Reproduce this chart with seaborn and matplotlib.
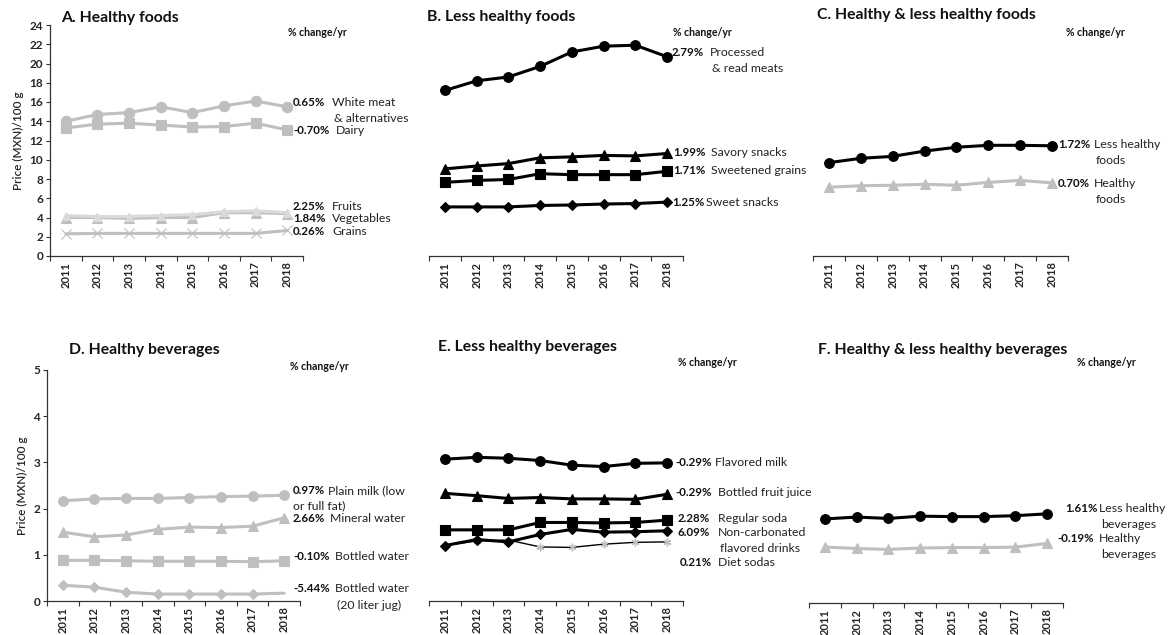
"""Food and beverage prices in Mexico, 2011-2018: six small panels."""

import matplotlib
matplotlib.use("Agg")
import matplotlib.pyplot as plt
import seaborn as sns

W, H = 1171, 635
BLACK = "#000000"
GRAY = "#bfbfbf"
LIGHT = "#dadada"

YEARS = [2011, 2012, 2013, 2014, 2015, 2016, 2017, 2018]

# ---------------------------------------------------------------------------
# A. Healthy foods
# ---------------------------------------------------------------------------
white_meat = [14.0, 14.7, 14.9, 15.5, 14.9, 15.6, 16.1, 15.5]
dairy      = [13.3, 13.7, 13.8, 13.6, 13.4, 13.45, 13.8, 13.1]
fruits     = [4.2, 4.1, 4.1, 4.2, 4.3, 4.6, 4.7, 4.5]
vegetables = [4.0, 4.0, 3.9, 4.0, 4.0, 4.5, 4.5, 4.4]
grains     = [2.3, 2.35, 2.35, 2.35, 2.35, 2.35, 2.35, 2.65]

# B. Less healthy foods
processed_meats  = [17.2, 18.2, 18.6, 19.7, 21.2, 21.8, 21.9, 20.7]
savory_snacks    = [9.05, 9.35, 9.6, 10.2, 10.3, 10.45, 10.4, 10.65]
sweetened_grains = [7.65, 7.85, 7.95, 8.55, 8.45, 8.45, 8.45, 8.8]
sweet_snacks     = [5.1, 5.1, 5.1, 5.25, 5.3, 5.4, 5.45, 5.6]

# C. Healthy & less healthy foods
less_healthy_foods = [9.7, 10.15, 10.35, 10.9, 11.3, 11.5, 11.5, 11.45]
healthy_foods      = [7.15, 7.3, 7.35, 7.45, 7.35, 7.65, 7.85, 7.6]

# D. Healthy beverages
plain_milk     = [2.17, 2.21, 2.22, 2.22, 2.24, 2.26, 2.27, 2.29]
mineral_water  = [1.49, 1.39, 1.43, 1.55, 1.6, 1.59, 1.62, 1.8]
bottled_water  = [0.88, 0.88, 0.87, 0.86, 0.86, 0.86, 0.85, 0.87]
jug_water      = [0.34, 0.30, 0.19, 0.15, 0.15, 0.15, 0.15, 0.17]

# E. Less healthy beverages
flavored_milk  = [3.07, 3.11, 3.09, 3.04, 2.94, 2.91, 2.98, 2.99]
fruit_juice    = [2.33, 2.28, 2.22, 2.24, 2.21, 2.21, 2.2, 2.31]
regular_soda   = [1.54, 1.54, 1.54, 1.7, 1.7, 1.69, 1.7, 1.75]
noncarbonated  = [1.2, 1.33, 1.28, 1.44, 1.55, 1.49, 1.5, 1.52]
diet_sodas     = [1.2, 1.3, 1.32, 1.17, 1.16, 1.23, 1.27, 1.28]

# F. Healthy & less healthy beverages
less_healthy_bev = [1.82, 1.86, 1.83, 1.88, 1.87, 1.87, 1.89, 1.93]
healthy_bev      = [1.21, 1.18, 1.16, 1.19, 1.2, 1.2, 1.21, 1.29]

ASTERISK = (6, 2, 0)

PANELS = [
    dict(title="A. Healthy foods", rect=(50, 25, 253, 231), ymax=24, ystep=2,
         yaxis=True, title_xy=(61, 18), chg_xy=(288, 33),
         series=[
             (white_meat, GRAY, "o", 7.5, 2.2),
             (dairy, GRAY, "s", 7.5, 2.2),
             (vegetables, GRAY, "^", 6.5, 2.2),
             (fruits, LIGHT, "^", 6.0, 2.2),
             (grains, GRAY, "x", 7.0, 2.2),
         ],
         labels=[
             ("0.65%", 293, 102, ["White meat", "& alternatives"], 332),
             ("-0.70%", 293, 130, ["Dairy"], 336),
             ("2.25%", 293, 206, ["Fruits"], 332),
             ("1.84%", 293, 218, ["Vegetables"], 332),
             ("0.26%", 293, 231, ["Grains"], 332),
         ]),
    dict(title="B. Less healthy foods", rect=(429, 25, 254, 231), ymax=24, ystep=2,
         yaxis=False, title_xy=(427, 17), chg_xy=(673, 33),
         series=[
             (processed_meats, BLACK, "o", 7.0, 2.2),
             (savory_snacks, BLACK, "^", 6.5, 2.2),
             (sweetened_grains, BLACK, "s", 7.0, 2.2),
             (sweet_snacks, BLACK, "D", 5.0, 2.2),
         ],
         labels=[
             ("2.79%", 672, 53, ["Processed", "& read meats"], 710),
             ("1.99%", 673, 153, ["Savory snacks"], 711),
             ("1.71%", 673, 171, ["Sweetened grains"], 711),
             ("1.25%", 672, 202, ["Sweet snacks"], 706),
         ]),
    dict(title="C. Healthy & less healthy foods", rect=(813, 25, 255, 231), ymax=24,
         ystep=2, yaxis=False, title_xy=(817, 15), chg_xy=(1066, 32),
         series=[
             (less_healthy_foods, BLACK, "o", 7.0, 2.2),
             (healthy_foods, GRAY, "^", 6.5, 2.2),
         ],
         labels=[
             ("1.72%", 1058, 144, ["Less healthy", "foods"], 1094),
             ("0.70%", 1058, 183, ["Healthy", "foods"], 1094),
         ]),
    dict(title="D. Healthy beverages", rect=(47, 370, 253, 231), ymax=5, ystep=1,
         yaxis=True, title_xy=(69, 350), chg_xy=(290, 366),
         series=[
             (plain_milk, GRAY, "o", 7.0, 2.2),
             (mineral_water, GRAY, "^", 6.5, 2.2),
             (bottled_water, GRAY, "s", 7.0, 2.2),
             (jug_water, GRAY, "D", 5.0, 2.2),
         ],
         labels=[
             ("0.97%", 293, 491, ["Plain milk (low"], 328),
             (None, 293, 506, ["or full fat)"], 293),
             ("2.66%", 293, 519, ["Mineral water"], 330),
             ("-0.10%", 293, 557, ["Bottled water"], 335),
             ("-5.44%", 293, 589, ["Bottled water", "(20 liter jug)"], 335),
         ]),
    dict(title="E. Less healthy beverages", rect=(429, 370, 254, 231), ymax=5, ystep=1,
         yaxis=False, title_xy=(438, 347), chg_xy=(678, 363),
         series=[
             (flavored_milk, BLACK, "o", 7.0, 2.2),
             (fruit_juice, BLACK, "^", 6.5, 2.2),
             (regular_soda, BLACK, "s", 7.0, 2.2),
             (diet_sodas, BLACK, ASTERISK, 5.5, 1.0),
             (noncarbonated, BLACK, "D", 5.0, 2.2),
         ],
         labels=[
             ("-0.29%", 675, 462, ["Flavored milk"], 715),
             ("-0.29%", 675, 493, ["Bottled fruit juice"], 718),
             ("2.28%", 678, 519, ["Regular soda"], 718),
             ("6.09%", 678, 533, ["Non-carbonated", "flavored drinks"], 718),
             ("0.21%", 680, 563, ["Diet sodas"], 718),
         ]),
    dict(title="F. Healthy & less healthy beverages", rect=(809, 372, 254, 231), ymax=5,
         ystep=1, yaxis=False, title_xy=(818, 350), chg_xy=(1077, 362),
         series=[
             (less_healthy_bev, BLACK, "o", 7.0, 2.2),
             (healthy_bev, GRAY, "^", 6.5, 2.2),
         ],
         labels=[
             ("1.61%", 1065, 509, ["Less healthy", "beverages"], 1099),
             ("-0.19%", 1057, 539, ["Healthy", "beverages"], 1099),
         ]),
]

sns.set_theme(style="white")
plt.rcParams["font.family"] = ["Lato", "DejaVu Sans"]

fig = plt.figure(figsize=(W / 100, H / 100), dpi=100)
fig.patch.set_facecolor("white")


def fx(x):
    return x / W


def fy(y):
    return 1 - y / H


for p in PANELS:
    x0, y0, w, h = p["rect"]
    ax = fig.add_axes([fx(x0), fy(y0 + h), w / W, h / H])

    for vals, color, marker, ms, lw in p["series"]:
        is_ast = marker is ASTERISK
        sns.lineplot(
            x=YEARS, y=vals, ax=ax, color=BLACK if is_ast else color,
            linewidth=lw, marker=marker, markersize=ms,
            markerfacecolor=GRAY if is_ast else color,
            markeredgecolor=GRAY if is_ast else color,
            markeredgewidth=1.0 if is_ast else 0.8,
            markevery=list(range(7)) if vals is jug_water else None,
            clip_on=False,
        )

    ax.set_xlim(2010.5, 2018.5)
    ax.set_ylim(0, p["ymax"])
    ax.set_xticks(YEARS)
    ax.set_xticklabels([str(y) for y in YEARS], rotation=90, fontsize=8,
                       fontweight="bold")
    ax.set_xticks([y + 0.5 for y in [2010] + YEARS], minor=True)
    ax.tick_params(axis="x", which="major", length=0, pad=4)
    ax.tick_params(axis="x", which="minor", length=3.5, width=0.8,
                   direction="out", color="#333333", bottom=True)
    for side in ["top", "right"]:
        ax.spines[side].set_visible(False)
    ax.spines["bottom"].set_color("#333333")
    ax.spines["bottom"].set_linewidth(0.9)

    if p["yaxis"]:
        ax.set_yticks(range(0, p["ymax"] + 1, p["ystep"]))
        ax.tick_params(axis="y", length=3, width=0.8, direction="out",
                       labelsize=8.5, color="#333333", left=True, pad=2)
        for lab in ax.get_yticklabels():
            lab.set_fontweight("bold")
        ax.spines["left"].set_color("#333333")
        ax.spines["left"].set_linewidth(0.9)
        ax.set_ylabel("Price (MXN)/100 g", fontsize=8.5, labelpad=4,
                      fontweight="semibold")
    else:
        ax.spines["left"].set_visible(False)
        ax.set_yticks([])
    ax.set_facecolor("none")

    tx, ty = p["title_xy"]
    fig.text(fx(tx), fy(ty), p["title"], fontsize=11.3, fontweight="bold",
             ha="left", va="center", color="#111111")
    cx, cy = p["chg_xy"]
    fig.text(fx(cx), fy(cy), "% change/yr", fontsize=7.6, fontweight="bold",
             ha="left", va="center", color="#111111")

    for pct, px_, py_, names, nx in p["labels"]:
        if pct:
            fig.text(fx(px_), fy(py_), pct, fontsize=8.3, fontweight="bold",
                     ha="left", va="center", color="#111111")
        for i, name in enumerate(names):
            xoff = 2 if i else 0
            fig.text(fx(nx + xoff), fy(py_ + 16 * i), name, fontsize=8.8,
                     ha="left", va="center", color="#222222")

fig.savefig("out.png", dpi=100, facecolor="white")
